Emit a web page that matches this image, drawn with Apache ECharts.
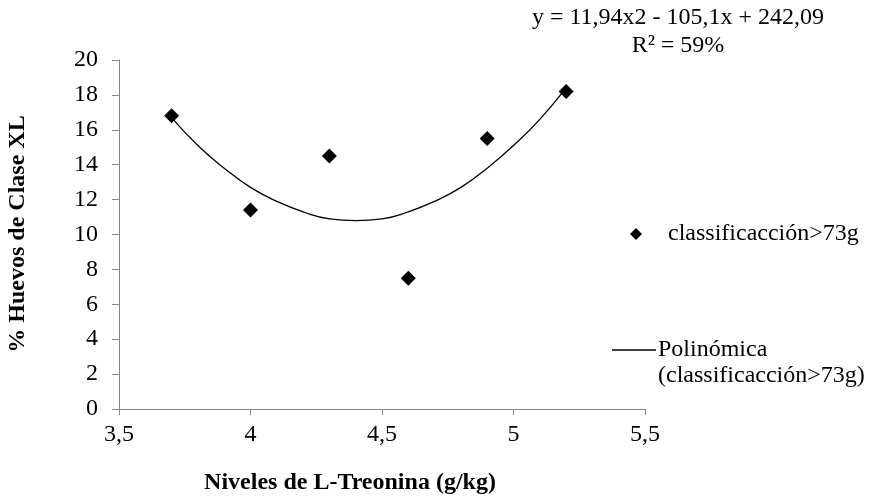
<!DOCTYPE html>
<html style="height: 100%">
<head>
  <meta charset="utf-8">
  <title>Huevos XL</title>
</head>
<body style="height: 100%; margin: 0; background: #fff">
<div id="container" style="width: 876px; height: 500px"></div>
<script src="https://cdn.jsdelivr.net/npm/echarts@6/dist/echarts.min.js"></script>
<script>
  var dom = document.getElementById("container");
  var myChart = echarts.init(dom);

  // puntos medidos
  var nivelesX = [3.7, 4.0, 4.3, 4.6, 4.9, 5.2];
  var huevosXL = [16.8, 11.4, 14.5, 7.5, 15.5, 18.2];
  // curva de tendencia
  var curvaX = [3.7, 3.8, 3.9, 4.0, 4.1, 4.2, 4.3, 4.4, 4.5, 4.6, 4.7, 4.8, 4.9, 5.0, 5.1, 5.2];
  var curvaY = [16.7, 15.1, 13.8, 12.7, 11.9, 11.3, 10.9, 10.8, 10.9, 11.3, 11.9, 12.7, 13.8, 15.1, 16.6, 18.4];

  var font = 'Liberation Serif';
  var gris = '#868686';

  var option = {
    animation: false,
    textStyle: { fontFamily: font },
    grid: { left: 119, right: 231, top: 60, bottom: 91 },
    xAxis: {
      type: 'value',
      min: 3.5,
      max: 5.5,
      interval: 0.5,
      axisLine: { lineStyle: { color: gris } },
      axisTick: { show: true, length: 6, lineStyle: { color: gris } },
      splitLine: { show: false },
      axisLabel: {
        color: '#000', fontSize: 24, fontFamily: font, margin: 14,
        formatter: function (v) { return String(v).replace('.', ','); }
      }
    },
    yAxis: {
      type: 'value',
      min: 0,
      max: 20,
      interval: 2,
      axisLine: { show: true, lineStyle: { color: gris } },
      axisTick: { show: true, length: 7, lineStyle: { color: gris } },
      splitLine: { show: false },
      axisLabel: { color: '#000', fontSize: 24, fontFamily: font, margin: 21 }
    },
    series: [
      {
        name: 'Polinómica (classificacción>73g)',
        type: 'line',
        data: curvaX.map(function (x, i) { return [x, curvaY[i]]; }),
        smooth: true,
        showSymbol: false,
        lineStyle: { color: '#000', width: 1.3 },
        z: 1
      },
      {
        name: 'classificacción>73g',
        type: 'scatter',
        data: nivelesX.map(function (x, i) { return [x, huevosXL[i]]; }),
        symbol: 'diamond',
        symbolSize: [15, 15],
        itemStyle: { color: '#000', opacity: 1 },
        z: 2
      }
    ],
    graphic: [
      {
        type: 'text', x: 678, y: 18,
        style: { text: 'y = 11,94x2 - 105,1x + 242,09', font: '24px "Liberation Serif"', fill: '#000', align: 'center', verticalAlign: 'middle' }
      },
      {
        type: 'text', x: 678, y: 46,
        style: { text: 'R² = 59%', font: '24px "Liberation Serif"', fill: '#000', align: 'center', verticalAlign: 'middle' }
      },
      {
        type: 'text', x: 350, y: 483,
        style: { text: 'Niveles de L-Treonina (g/kg)', font: 'bold 24px "Liberation Serif"', fill: '#000', align: 'center', verticalAlign: 'middle' }
      },
      {
        type: 'text', x: 18, y: 234, rotation: Math.PI / 2,
        style: { text: '% Huevos de Clase XL', font: 'bold 24px "Liberation Serif"', fill: '#000', align: 'center', verticalAlign: 'middle' }
      },
      {
        type: 'polygon',
        shape: { points: [[636, 228], [642, 234], [636, 240], [630, 234]] },
        style: { fill: '#000' }
      },
      {
        type: 'text', x: 668, y: 234,
        style: { text: 'classificacción>73g', font: '24px "Liberation Serif"', fill: '#000', verticalAlign: 'middle' }
      },
      {
        type: 'line',
        shape: { x1: 612, y1: 350, x2: 656, y2: 350 },
        style: { stroke: '#000', lineWidth: 1.3 }
      },
      {
        type: 'text', x: 658, y: 350,
        style: { text: 'Polinómica', font: '24px "Liberation Serif"', fill: '#000', verticalAlign: 'middle' }
      },
      {
        type: 'text', x: 658, y: 376,
        style: { text: '(classificacción>73g)', font: '24px "Liberation Serif"', fill: '#000', verticalAlign: 'middle' }
      }
    ]
  };

  myChart.setOption(option);
</script>
</body>
</html>
